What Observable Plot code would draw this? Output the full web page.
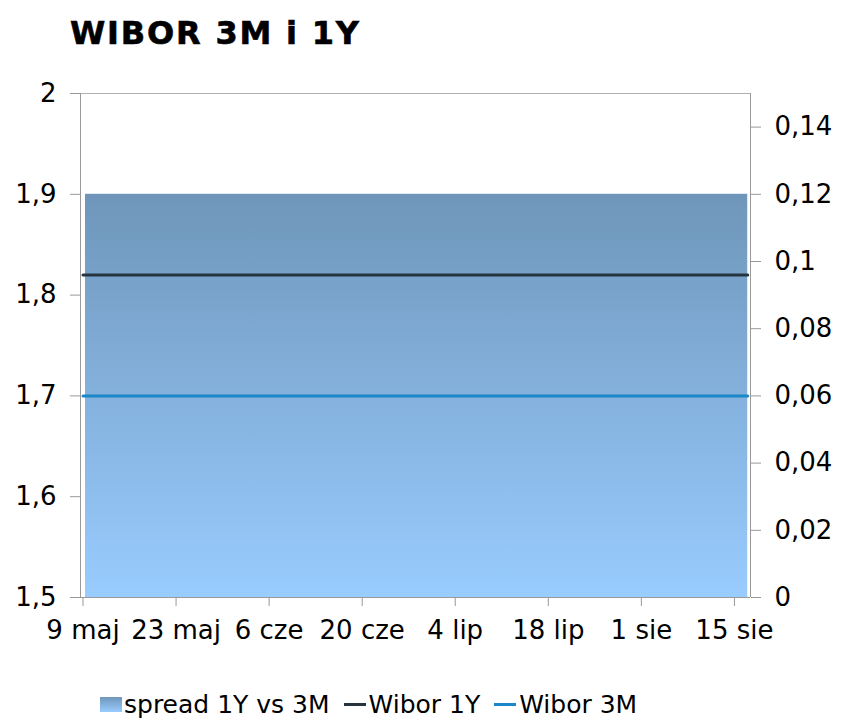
<!DOCTYPE html>
<html>
<head>
<meta charset="utf-8">
<script src="https://cdn.jsdelivr.net/npm/d3@7"></script>
<script src="https://cdn.jsdelivr.net/npm/@observablehq/plot@0.6"></script>
<style>
  html, body { margin: 0; padding: 0; background: #fff; }
  body { width: 843px; height: 728px; overflow: hidden; font-family: "DejaVu Sans", Verdana, sans-serif; }
  #title { height: 60px; padding-left: 70px; box-sizing: border-box; padding-top: 16px;
           font-size: 32px; font-weight: bold; letter-spacing: 1.8px; color: #000; line-height: 34px; -webkit-text-stroke: 0.6px #000; }
  #legend { position: absolute; top: 690px; left: 100px; font-size: 25px; color: #000; display: flex; align-items: center; white-space: nowrap; }
  .sw-box { width: 22px; height: 15px; background: linear-gradient(#6f96ba, #99ccff); margin-right: 2px; }
  .sw-line { width: 22px; height: 3px; margin-right: 3px; }
  .item { display: flex; align-items: center; margin-right: 14px; }
</style>
</head>
<body>
<div id="title">WIBOR 3M i 1Y</div>
<div id="chart"></div>
<div id="legend"></div>
<script>
// ---- data ----
const dates = ["2016-05-09", "2016-08-17"];
const wibor1Y = [1.82, 1.82];
const wibor3M = [1.70, 1.70];
const spread = [0.12, 0.12];
const tickDates = ["2016-05-09", "2016-05-23", "2016-06-06", "2016-06-20", "2016-07-04", "2016-07-18", "2016-08-01", "2016-08-15"];
const tickLabels = ["9 maj", "23 maj", "6 cze", "20 cze", "4 lip", "18 lip", "1 sie", "15 sie"];
const leftTicks = [1.5, 1.6, 1.7, 1.8, 1.9, 2];
const rightTicks = [0, 0.02, 0.04, 0.06, 0.08, 0.1, 0.12, 0.14];
const seriesNames = ["spread 1Y vs 3M", "Wibor 1Y", "Wibor 3M"];
const seriesColors = ["#6f96ba", "#263440", "#1a87c8"];

// right axis (0..0.15) mapped onto left axis (1.5..2)
const leftDomain = [1.5, 2];
const rightDomain = [0, 0.15];
const toLeft = v => leftDomain[0] + (v - rightDomain[0]) / (rightDomain[1] - rightDomain[0]) * (leftDomain[1] - leftDomain[0]);

const data = dates.map((d, i) => ({date: new Date(d + "T00:00"), w1y: wibor1Y[i], w3m: wibor3M[i], spread: spread[i]}));
// spread drawn as steps between consecutive observations
const spreadSteps = data.slice(0, -1).map((d, i) => ({x1: d.date, x2: data[i + 1].date, spread: d.spread}));
const xTicks = tickDates.map(d => new Date(d + "T00:00"));
const fmtComma = v => String(v).replace(".", ",");
const xStart = new Date("2016-05-08T15:00");
const xEnd = new Date("2016-08-17T10:00");

const gradient = () => {
  const ns = "http://www.w3.org/2000/svg";
  const g = document.createElementNS(ns, "g");
  g.innerHTML = `<defs><linearGradient id="spreadGrad" x1="0" y1="0" x2="0" y2="1">
    <stop offset="0%" stop-color="#6f96ba"/><stop offset="100%" stop-color="#99ccff"/></linearGradient></defs>`;
  return g;
};

const chart = Plot.plot({
  width: 843,
  height: 605,
  marginTop: 33,
  marginBottom: 68,
  marginLeft: 80,
  marginRight: 93,
  style: {fontFamily: "'DejaVu Sans', Verdana, sans-serif", fontSize: "26px", color: "#000", background: "#fff"},
  x: {type: "time", domain: [xStart, xEnd]},
  y: {domain: leftDomain},
  marks: [
    gradient,
    Plot.rect(spreadSteps, {x1: "x1", x2: "x2", y1: leftDomain[0], y2: d => toLeft(d.spread), fill: "url(#spreadGrad)", insetLeft: 2.5}),
    Plot.lineY(data, {x: "date", y: "w1y", stroke: seriesColors[1], strokeWidth: 3}),
    Plot.lineY(data, {x: "date", y: "w3m", stroke: seriesColors[2], strokeWidth: 3}),
    // frame lines
    Plot.ruleY([leftDomain[1]], {stroke: "#b0b0b0", strokeWidth: 1}),
    Plot.ruleY([leftDomain[0]], {stroke: "#999", strokeWidth: 1}),
    Plot.ruleX([xStart], {stroke: "#999", strokeWidth: 1}),
    Plot.ruleX([xEnd], {stroke: "#999", strokeWidth: 1}),
    Plot.axisY({anchor: "left", ticks: leftTicks, tickFormat: fmtComma, tickSize: 10, tickPadding: 14, stroke: "#999"}),
    Plot.axisY({anchor: "right", ticks: rightTicks.map(toLeft),
      tickFormat: v => fmtComma(+(((v - leftDomain[0]) / (leftDomain[1] - leftDomain[0])) * (rightDomain[1] - rightDomain[0]) + rightDomain[0]).toFixed(2)),
      tickSize: 10, tickPadding: 14, stroke: "#999"}),
    Plot.axisX({ticks: xTicks, tickFormat: d => tickLabels[xTicks.findIndex(t => +t === +d)], tickSize: 9, tickPadding: 14, stroke: "#999"})
  ]
});
document.getElementById("chart").appendChild(chart);

// legend
const legend = document.getElementById("legend");
seriesNames.forEach((name, i) => {
  const item = document.createElement("div");
  item.className = "item";
  const sw = document.createElement("div");
  if (i === 0) { sw.className = "sw-box"; }
  else { sw.className = "sw-line"; sw.style.background = seriesColors[i]; }
  item.appendChild(sw);
  const t = document.createElement("span");
  t.textContent = name;
  item.appendChild(t);
  legend.appendChild(item);
});
</script>
</body>
</html>
